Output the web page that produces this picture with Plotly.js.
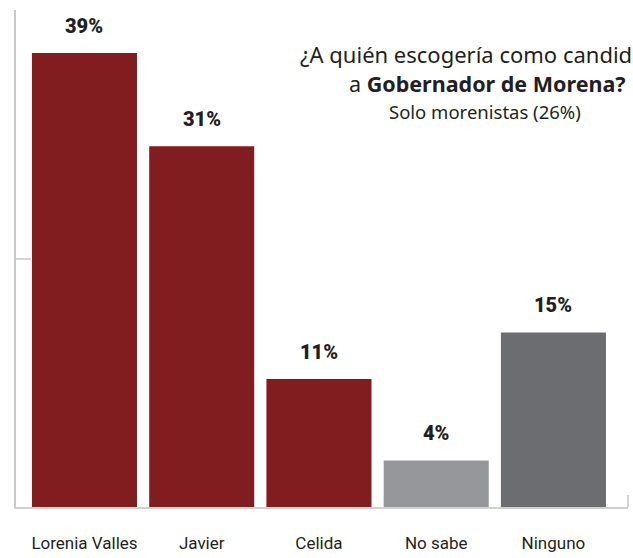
<!DOCTYPE html>
<html>
<head>
<meta charset="utf-8">
<script src="https://cdn.plot.ly/plotly-3.0.1.min.js"></script>
<style>html,body{margin:0;padding:0;background:#fff;}#chart{width:633px;height:558px;}</style>
</head>
<body>
<div id="chart"></div>
<script>
const categories = ["Lorenia Valles", "Javier", "Celida", "No sabe", "Ninguno"];
const values = [39, 31, 11, 4, 15];
const valueLabels = ["39%", "31%", "11%", "4%", "15%"];
const barColors = ["#821d1f", "#821d1f", "#821d1f", "#96979b", "#6c6d71"];
const titleLine1 = "¿A quién escogería como candidato";
const titleLine2 = "a <b>Gobernador de Morena?</b>";
const subtitle = "Solo morenistas (26%)";

const trace = {
  type: "bar",
  x: categories,
  y: values,
  marker: { color: barColors },
  hoverinfo: "skip"
};

const labelAnnotations = categories.map((c, i) => ({
  x: c, y: values[i], xref: "x", yref: "y",
  text: valueLabels[i], showarrow: false,
  yanchor: "bottom", yshift: 13,
  font: { family: "Roboto, 'DejaVu Sans', sans-serif", size: 20, color: "#231f20", weight: 900 }
}));

const layout = {
  width: 633, height: 558,
  margin: { l: 16, r: 5, t: 10, b: 51 },
  paper_bgcolor: "#ffffff", plot_bgcolor: "#ffffff",
  showlegend: false,
  bargap: 0.104,
  xaxis: {
    type: "category",
    range: [-0.584, 4.636],
    showline: true, linecolor: "#d0d0d0", linewidth: 2,
    showgrid: false, zeroline: false,
    ticks: "", ticklabelstandoff: 20,
    tickfont: { family: "Roboto, sans-serif", size: 17, color: "#231f20" },
    fixedrange: true
  },
  yaxis: {
    range: [0, 42.7],
    showline: true, linecolor: "#c8c8c8", linewidth: 2,
    showgrid: false, zeroline: false,
    ticks: "inside", ticklen: 15, tickwidth: 2, tickcolor: "#d4d4d4",
    tickvals: [21.35], showticklabels: false,
    fixedrange: true
  },
  shapes: [{
    type: "line", xref: "paper", yref: "paper",
    x0: 1, x1: 1, y0: 0, y1: 0.024,
    line: { color: "#d4d4d4", width: 2 }
  }],
  annotations: labelAnnotations.concat([
    {
      xref: "paper", yref: "paper", x: 0.4608, y: 0.9115,
      xanchor: "left", yanchor: "middle", showarrow: false,
      text: titleLine1,
      font: { family: "'Noto Sans', 'Open Sans', sans-serif", size: 22, color: "#231f20" }
    },
    {
      xref: "paper", yref: "paper", x: 0.5408, y: 0.8531,
      xanchor: "left", yanchor: "middle", showarrow: false,
      text: titleLine2,
      font: { family: "'Noto Sans', 'Open Sans', sans-serif", size: 21.5, color: "#231f20" }
    },
    {
      xref: "paper", yref: "paper", x: 0.6062, y: 0.7948,
      xanchor: "left", yanchor: "middle", showarrow: false,
      text: subtitle,
      font: { family: "'Noto Sans', 'Open Sans', sans-serif", size: 18.5, color: "#231f20" }
    }
  ])
};

Plotly.newPlot("chart", [trace], layout, { displayModeBar: false, staticPlot: true });
</script>
</body>
</html>
